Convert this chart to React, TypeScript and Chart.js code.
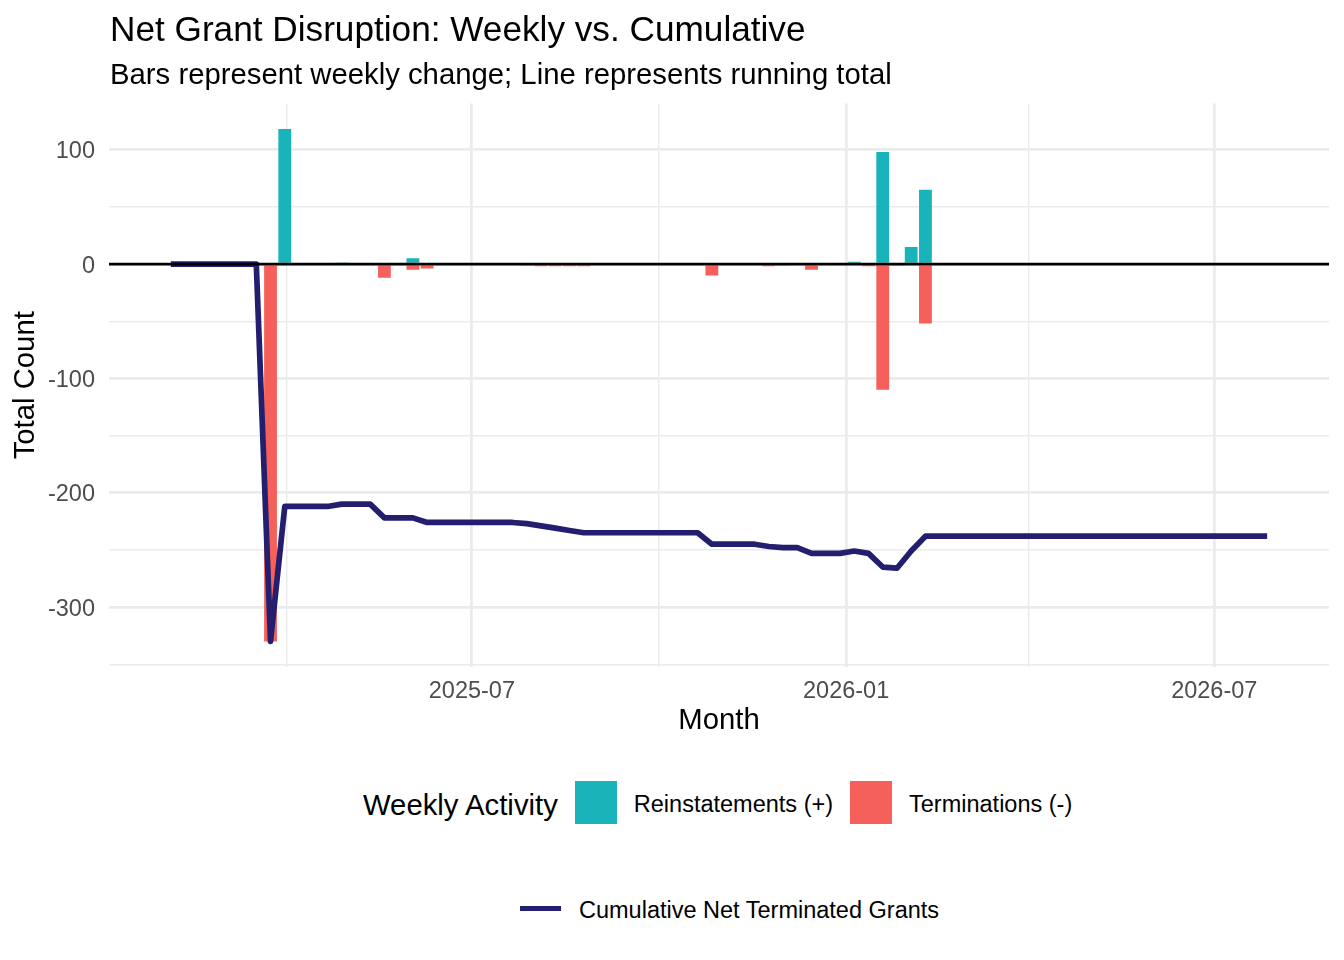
import { useEffect, useRef } from "react";
import { Chart, registerables } from "chart.js";
import type { ChartConfiguration, Plugin } from "chart.js";

Chart.register(...registerables);

// weekly series start (Mondays)
const FIRST_WEEK = "2025-02-03";

// running total, one value per week starting at FIRST_WEEK
const cumulativeNet = [
  0, 0, 0, 0, 0, 0, 0,
  -330,
  -212, -212, -212, -212,
  -210, -210, -210,
  -222, -222, -222,
  -226, -226, -226, -226, -226, -226, -226,
  -227, -229, -231, -233,
  -235, -235, -235, -235, -235, -235, -235, -235, -235,
  -245, -245, -245, -245,
  -247, -248, -248,
  -253, -253, -253,
  -251, -253, -265, -266, -251,
  -238, -238, -238, -238, -238, -238, -238, -238, -238, -238,
  -238, -238, -238, -238, -238, -238, -238, -238, -238, -238,
  -238, -238, -238, -238, -238,
];

const reinstatementWeeks = [
  "2025-03-31", "2025-04-28", "2025-06-02", "2026-01-05",
  "2026-01-19", "2026-02-02", "2026-02-09",
];
const reinstatements = [118, 1, 5, 2, 98, 15, 65];

const terminationWeeks = [
  "2025-03-24", "2025-05-19", "2025-06-02", "2025-06-09", "2025-07-28",
  "2025-08-04", "2025-08-11", "2025-08-18", "2025-08-25", "2025-10-27",
  "2025-11-24", "2025-12-01", "2025-12-15", "2026-01-12", "2026-01-19",
  "2026-01-26", "2026-02-09",
];
const terminations = [
  -330, -12, -5, -4, -1, -2, -2, -2, -2, -10, -2, -1, -5, -2, -110, -1, -52,
];

const xMajorTicks = ["2025-07-01", "2026-01-01", "2026-07-01"];
const xMajorLabels = ["2025-07", "2026-01", "2026-07"];
const xMinorTicks = ["2025-04-01", "2025-10-01", "2026-04-01"];
const yMajorTicks = [100, 0, -100, -200, -300];
const yMinorTicks = [50, -50, -150, -250, -350];

const TEAL = "#18B4B9";
const SALMON = "#F5605B";
const NAVY = "#231F6E";
const GRID = "#EBEBEB";
const TICK_TEXT = "#4D4D4D";
const FONT = '"Liberation Sans", Arial, Helvetica, sans-serif';

const DAY_MS = 86400000;
const toDay = (iso: string) => Date.parse(iso + "T00:00:00Z") / DAY_MS;
const weekDay = (i: number) => toDay(FIRST_WEEK) + 7 * i;

// ggplot-like limits: data range (bars are 0.9 week wide) plus 5% each side
const barHalf = (7 * 0.9) / 2;
const xLo = weekDay(0) - barHalf;
const xHi = weekDay(cumulativeNet.length - 1) + barHalf;
const xPad = (xHi - xLo) * 0.05;
const yLo = Math.min(...cumulativeNet, ...terminations);
const yHi = Math.max(...cumulativeNet, ...reinstatements);
const yPad = (yHi - yLo) * 0.05;

const xMajorDays = xMajorTicks.map(toDay);
const xGridDays = [...xMinorTicks.map(toDay), ...xMajorDays].sort((a, b) => a - b);
const yGrid = [...yMinorTicks, ...yMajorTicks].sort((a, b) => a - b);

const zeroLine: Plugin = {
  id: "zeroLine",
  afterDatasetsDraw(chart) {
    const { ctx, chartArea, scales } = chart;
    const y = scales.y.getPixelForValue(0);
    ctx.save();
    ctx.strokeStyle = "#000000";
    ctx.lineWidth = 2.8;
    ctx.beginPath();
    ctx.moveTo(chartArea.left, y);
    ctx.lineTo(chartArea.right, y);
    ctx.stroke();
    ctx.restore();
  },
};

function LegendBox({ color }: { color: string }) {
  return <div style={{ width: 42, height: 43, background: color }} />;
}

export default function App() {
  const chartRef = useRef<HTMLCanvasElement | null>(null);

  useEffect(() => {
    if (!chartRef.current) return;

    const config: ChartConfiguration = {
      type: "bar",
      data: {
        datasets: [
          {
            type: "line",
            label: "Cumulative Net Terminated Grants",
            data: cumulativeNet.map((v, i) => ({ x: weekDay(i), y: v })),
            borderColor: NAVY,
            borderWidth: 5.7,
            borderJoinStyle: "round",
            borderCapStyle: "butt",
            pointRadius: 0,
            tension: 0,
            order: 0,
          },
          {
            type: "bar",
            label: "Reinstatements (+)",
            data: reinstatementWeeks.map((d, i) => ({ x: toDay(d), y: reinstatements[i] })),
            backgroundColor: TEAL,
            borderWidth: 0,
            grouped: false,
            barPercentage: 0.9,
            categoryPercentage: 1,
            order: 1,
          },
          {
            type: "bar",
            label: "Terminations (-)",
            data: terminationWeeks.map((d, i) => ({ x: toDay(d), y: terminations[i] })),
            backgroundColor: SALMON,
            borderWidth: 0,
            grouped: false,
            barPercentage: 0.9,
            categoryPercentage: 1,
            order: 2,
          },
        ],
      },
      options: {
        animation: false,
        responsive: false,
        layout: { padding: { top: 103.5, right: 15, bottom: 0, left: 0 } },
        plugins: {
          legend: { display: false },
          tooltip: { enabled: false },
        },
        scales: {
          x: {
            type: "linear",
            offset: false,
            min: xLo - xPad,
            max: xHi + xPad,
            afterBuildTicks: (scale) => {
              scale.ticks = xGridDays.map((v) => ({ value: v }));
            },
            afterFit: (scale) => {
              scale.height = 93;
            },
            grid: {
              offset: false,
              color: GRID,
              drawTicks: false,
              lineWidth: (ctx) => (xMajorDays.includes(ctx.tick?.value) ? 2.8 : 1.4),
            },
            border: { display: false },
            ticks: {
              autoSkip: false,
              maxRotation: 0,
              padding: 10,
              color: TICK_TEXT,
              font: { family: FONT, size: 23.5 },
              callback: (value) => {
                const k = xMajorDays.indexOf(Number(value));
                return k >= 0 ? xMajorLabels[k] : "";
              },
            },
            title: {
              display: true,
              text: "Month",
              color: "#000000",
              font: { family: FONT, size: 29.3 },
              padding: { top: 0, bottom: 21.7 },
            },
          },
          y: {
            type: "linear",
            min: yLo - yPad,
            max: yHi + yPad,
            afterBuildTicks: (scale) => {
              scale.ticks = yGrid.map((v) => ({ value: v }));
            },
            afterFit: (scale) => {
              scale.width = 109;
            },
            grid: {
              color: GRID,
              drawTicks: false,
              lineWidth: (ctx) => (yMajorTicks.includes(ctx.tick?.value) ? 2.8 : 1.4),
            },
            border: { display: false },
            ticks: {
              autoSkip: false,
              padding: 14,
              labelOffset: 2,
              color: TICK_TEXT,
              font: { family: FONT, size: 23.5 },
              callback: (value) => (yMajorTicks.includes(Number(value)) ? String(value) : ""),
            },
            title: {
              display: true,
              text: "Total Count",
              color: "#000000",
              font: { family: FONT, size: 29.3 },
              padding: { top: 8.4, bottom: 0 },
            },
          },
        },
      },
      plugins: [zeroLine],
    };

    const chart = new Chart(chartRef.current, config);
    return () => {
      chart.destroy();
    };
  }, []);

  const text = (size: number): React.CSSProperties => ({
    fontSize: size,
    lineHeight: 1,
    color: "#000000",
    whiteSpace: "nowrap",
    position: "relative",
    top: 2,
  });

  return (
    <div
      style={{
        position: "absolute",
        left: 0,
        top: 0,
        width: 1344,
        height: 960,
        background: "#ffffff",
        fontFamily: FONT,
        overflow: "hidden",
      }}
    >
      <canvas
        ref={chartRef}
        width={1344}
        height={760}
        style={{ position: "absolute", left: 0, top: 0, width: 1344, height: 760 }}
      />
      <div style={{ position: "absolute", left: 110, top: 10.9, fontSize: 35.2, lineHeight: 1, whiteSpace: "nowrap" }}>
        Net Grant Disruption: Weekly vs. Cumulative
      </div>
      <div style={{ position: "absolute", left: 110, top: 58.6, fontSize: 29.3, lineHeight: 1, whiteSpace: "nowrap" }}>
        Bars represent weekly change; Line represents running total
      </div>

      <div
        style={{
          position: "absolute",
          left: 363,
          top: 781,
          height: 43,
          display: "flex",
          alignItems: "center",
          gap: 17,
        }}
      >
        <span style={text(29.3)}>Weekly Activity</span>
        <LegendBox color={TEAL} />
        <span style={text(23.5)}>Reinstatements (+)</span>
        <LegendBox color={SALMON} />
        <span style={text(23.5)}>Terminations (-)</span>
      </div>

      <div
        style={{
          position: "absolute",
          left: 520,
          top: 887,
          height: 43,
          display: "flex",
          alignItems: "center",
          gap: 18,
        }}
      >
        <div style={{ width: 41, height: 5.3, background: NAVY }} />
        <span style={text(23.5)}>Cumulative Net Terminated Grants</span>
      </div>
    </div>
  );
}
